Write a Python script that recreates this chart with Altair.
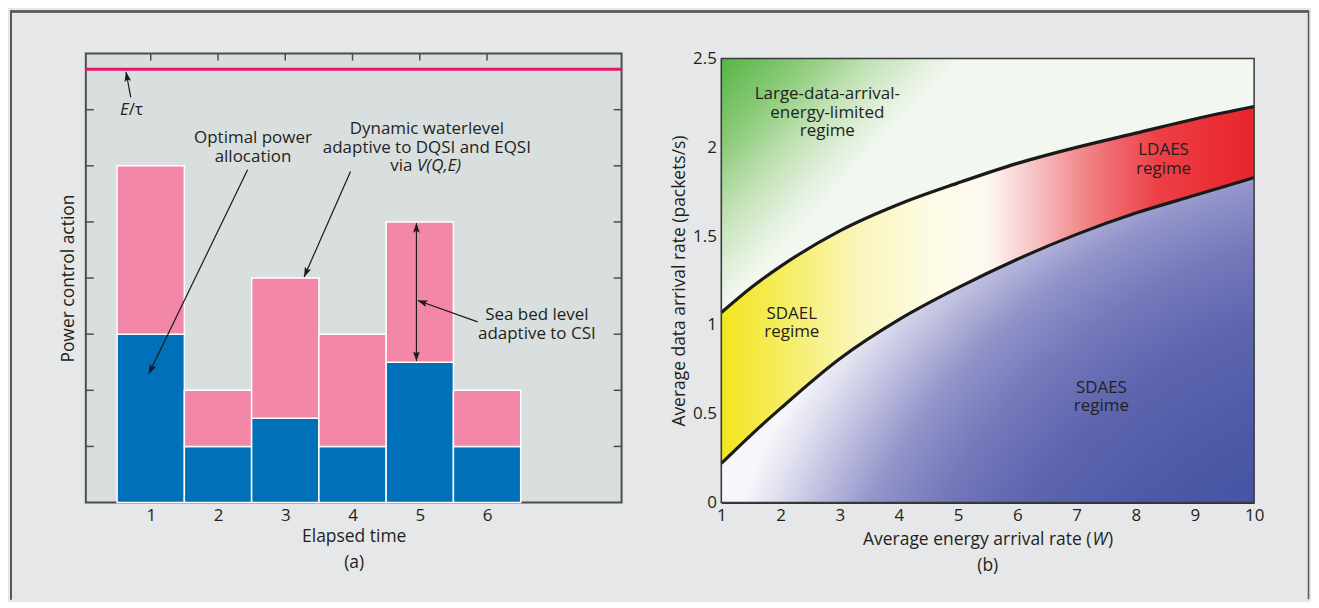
import math
import altair as alt
import pandas as pd

FONT = "Open Sans"
TXT = "#231f20"
FS = 17
FST = 17.5

# ---------------- panel (a) data ----------------
SLOTS = [1, 2, 3, 4, 5, 6]
OPTIMAL_POWER = [3, 1, 1.5, 1, 2.5, 1]        # blue part (top of blue)
WATER_LEVEL = [6, 2, 4, 3, 5, 2]              # top of pink part
E_TAU_LEVEL = [7.72]
A_TICKS_Y = [1, 2, 3, 4, 5, 6, 7]

# annotation blocks (position of the first line)
A_NOTE_TEXT = ["Optimal power\nallocation", "Dynamic waterlevel\nadaptive to DQSI and EQSI",
               "Sea bed level\nadaptive to CSI"]
A_NOTE_X = [2.52, 5.105, 6.74]
A_NOTE_Y = [6.494, 6.654, 3.337]

# arrows: tail -> head (data units)
ARROW_TX = [0.703, 2.44, 3.97, 4.95, 4.95, 5.86]
ARROW_TY = [7.22, 5.93, 5.90, 3.75, 3.75, 3.22]
ARROW_HX = [0.633, 0.97, 3.28, 4.95, 4.95, 4.97]
ARROW_HY = [7.675, 2.29, 4.02, 4.98, 2.52, 3.60]

# ---------------- panel (b) data ----------------
ENERGY_RATE = [1, 1.5, 2, 3, 4, 5, 6, 7, 8, 9, 10]
UPPER_BOUND = [1.07, 1.21, 1.33, 1.53, 1.68, 1.80, 1.91, 2.00, 2.08, 2.16, 2.23]
LOWER_BOUND = [0.22, 0.38, 0.53, 0.81, 1.03, 1.21, 1.37, 1.51, 1.63, 1.73, 1.83]
B_X_TICKS = [1, 2, 3, 4, 5, 6, 7, 8, 9, 10]
B_Y_TICKS = [0, 0.5, 1, 1.5, 2, 2.5]
B_NOTE_TEXT = ["Large-data-arrival-\nenergy-limited\nregime", "SDAEL\nregime", "LDAES\nregime", "SDAES\nregime"]
B_NOTE_X = [2.79, 2.19, 8.47, 7.42]
B_NOTE_Y = [2.299, 1.062, 1.983, 0.646]

# ---------------- geometry ----------------
WA, HA = 537, 450
WB, HB = 534, 450
XA_DOM = [0.035, 8.0]
YA_DOM = [0, 8]
SXA = WA / (XA_DOM[1] - XA_DOM[0])
SYA = HA / (YA_DOM[1] - YA_DOM[0])

xs_a = alt.Scale(domain=XA_DOM, nice=False, zero=False)
ys_a = alt.Scale(domain=YA_DOM, nice=False, zero=False)
x_axis_a = alt.Axis(values=SLOTS, title=["Elapsed time", "(a)"], ticks=False, tickSize=0, domain=False,
                    grid=False, labelFont=FONT, labelFontSize=FS, labelColor=TXT, labelPadding=5,
                    labelFlush=False, titleFont=FONT, titleFontSize=FST, titleFontWeight="normal",
                    titleColor=TXT, titlePadding=4, titleLineHeight=26)
y_axis_a = alt.Axis(title="Power control action", labels=False, ticks=False, tickSize=0, domain=False,
                    grid=False, titleFont=FONT, titleFontSize=FST, titleFontWeight="normal",
                    titleColor=TXT, titlePadding=8)


def XA(f):
    return alt.X(f, type="quantitative", scale=xs_a, axis=x_axis_a)


def YA(f):
    return alt.Y(f, type="quantitative", scale=ys_a, axis=y_axis_a)


rows = []
for s, p, w in zip(SLOTS, OPTIMAL_POWER, WATER_LEVEL):
    rows.append(dict(l=s - 0.5, r=s + 0.5, b=0, t=p, part="power"))
    rows.append(dict(l=s - 0.5, r=s + 0.5, b=p, t=w, part="level"))
bars_df = pd.DataFrame(rows)

bars = alt.Chart(bars_df).mark_rect(stroke="white", strokeWidth=1.5).encode(
    x=XA("l"), x2="r", y=YA("b"), y2="t",
    color=alt.Color("part:N", scale=alt.Scale(domain=["power", "level"], range=["#0070b9", "#f287a7"]),
                    legend=None))

eline = alt.Chart(pd.DataFrame({"lev": E_TAU_LEVEL})).mark_rule(color="#e8136f", strokeWidth=3).encode(
    y=YA("lev"), x=alt.value(0), x2=alt.value(WA))

tick_df = pd.DataFrame({"v": A_TICKS_Y})
lticks = alt.Chart(tick_df).mark_rule(color="#4d4d4f", strokeWidth=1.5).encode(
    y=YA("v"), x=alt.value(0), x2=alt.value(8))
rticks = alt.Chart(tick_df).mark_rule(color="#4d4d4f", strokeWidth=1.5).encode(
    y=YA("v"), x=alt.value(WA - 8), x2=alt.value(WA))
tticks = alt.Chart(pd.DataFrame({"v": SLOTS})).mark_rule(color="#4d4d4f", strokeWidth=1.5).encode(
    x=XA("v"), y=alt.value(0), y2=alt.value(7))

angles = []
for tx, ty, hx, hy in zip(ARROW_TX, ARROW_TY, ARROW_HX, ARROW_HY):
    dxp = (hx - tx) * SXA
    dyp = -(hy - ty) * SYA
    angles.append(math.degrees(math.atan2(dxp, -dyp)) % 360)
arrow_df = pd.DataFrame({"tx": ARROW_TX, "ty": ARROW_TY, "hx": ARROW_HX, "hy": ARROW_HY, "ang": angles})
shafts = alt.Chart(arrow_df).mark_rule(color="#1a1a1a", strokeWidth=1.2).encode(
    x=XA("tx"), y=YA("ty"), x2="hx", y2="hy")
HEAD = "M0,0L-0.35,1L0,0.8L0.35,1Z"
heads = alt.Chart(arrow_df).mark_point(shape=HEAD, filled=True, size=380, color="#1a1a1a", opacity=1,
                                       strokeWidth=0).encode(
    x=XA("hx"), y=YA("hy"), angle=alt.Angle("ang:Q", scale=None))

notes_a = alt.Chart(pd.DataFrame({"x": A_NOTE_X, "y": A_NOTE_Y, "t": A_NOTE_TEXT})).mark_text(
    font=FONT, fontSize=FS, color=TXT, lineBreak="\n", lineHeight=18.5, align="center",
    baseline="middle").encode(x=XA("x"), y=YA("y"), text="t:N")

via_df = pd.DataFrame({"x": [4.959], "y": [6.004]})
via1 = alt.Chart(via_df).mark_text(font=FONT, fontSize=FS, color=TXT, align="right", baseline="middle",
                                   dx=-4.5, text="via").encode(x=XA("x"), y=YA("y"))
via2 = alt.Chart(via_df).mark_text(font=FONT, fontSize=FS, color=TXT, align="left", baseline="middle",
                                   fontStyle="italic", text="V(Q,E)").encode(x=XA("x"), y=YA("y"))
et_df = pd.DataFrame({"x": [0.673], "y": [7.0]})
et1 = alt.Chart(et_df).mark_text(font=FONT, fontSize=FS, color=TXT, align="right", baseline="middle",
                                 fontStyle="italic", text="E").encode(x=XA("x"), y=YA("y"))
et2 = alt.Chart(et_df).mark_text(font=FONT, fontSize=FS, color=TXT, align="left", baseline="middle",
                                 text="/τ").encode(x=XA("x"), y=YA("y"))

# outer figure frame (left and top edges)
FRAME = "#58595b"
frame_left = alt.Chart(tick_df).mark_rule(color=FRAME, strokeWidth=1.5).encode(
    x=alt.value(-75.2), y=alt.value(-43), y2=alt.value(547))
frame_top = alt.Chart(tick_df).mark_rule(color=FRAME, strokeWidth=1.5).encode(
    y=alt.value(-42.2), x=alt.value(-76), x2=alt.value(1226))

panel_a = alt.layer(bars, eline, lticks, rticks, tticks, shafts, heads, notes_a, via1, via2, et1, et2,
                    frame_left, frame_top).properties(
    width=WA, height=HA, view=alt.ViewBackground(fill="#d9dfde", stroke="#4d4d4f", strokeWidth=2))

# ---------------- panel (b) ----------------
xs_b = alt.Scale(domain=[1, 10], nice=False, zero=False)
ys_b = alt.Scale(domain=[0, 2.5], range=[450, 5], nice=False, zero=False)
x_axis_b = alt.Axis(values=B_X_TICKS, title=None, ticks=False, tickSize=0, domain=True, domainColor="#333333",
                    domainWidth=2, grid=False, labelFont=FONT, labelFontSize=FS, labelColor=TXT,
                    labelPadding=5, labelFlush=False)
y_axis_b = alt.Axis(values=B_Y_TICKS, format="~g", title="Average data arrival rate (packets/s)", ticks=False,
                    tickSize=0, domain=True, domainColor="#333333", domainWidth=2, grid=False,
                    labelFont=FONT, labelFontSize=FS, labelColor=TXT, labelPadding=5, labelFlush=False,
                    titleFont=FONT, titleFontSize=FST, titleFontWeight="normal", titleColor=TXT,
                    titlePadding=4)


def XB(f):
    return alt.X(f, type="quantitative", scale=xs_b, axis=x_axis_b)


def YB(f):
    return alt.Y(f, type="quantitative", scale=ys_b, axis=y_axis_b)


reg_df = pd.DataFrame({"x": ENERGY_RATE, "up": UPPER_BOUND, "lo": LOWER_BOUND,
                       "top": [B_Y_TICKS[-1]] * len(ENERGY_RATE), "bot": [B_Y_TICKS[0]] * len(ENERGY_RATE)})

GREEN = {"gradient": "linear", "x1": 0, "y1": 0, "x2": 0.374, "y2": 0.168,
         "stops": [{"offset": 0, "color": "#55b646"}, {"offset": 0.35, "color": "#8bcb78"},
                   {"offset": 0.65, "color": "#c4e3b8"}, {"offset": 0.88, "color": "#e4f1df"},
                   {"offset": 1, "color": "#f2f7f0"}]}
BAND = {"gradient": "linear", "x1": 0, "y1": 0, "x2": 1, "y2": 0,
        "stops": [{"offset": 0, "color": "#f2e51e"}, {"offset": 0.12, "color": "#f5ed62"},
                  {"offset": 0.25, "color": "#faf5b8"}, {"offset": 0.4, "color": "#fdfbe6"},
                  {"offset": 0.5, "color": "#fdf7f3"}, {"offset": 0.58, "color": "#f7c6c8"},
                  {"offset": 0.7, "color": "#f07b7f"}, {"offset": 0.82, "color": "#ec4046"},
                  {"offset": 1, "color": "#e8232a"}]}
BLUE = {"gradient": "radial", "x1": 1.3, "y1": 1.3, "r1": 0, "x2": 1.3, "y2": 1.3, "r2": 1.36,
        "stops": [{"offset": 0, "color": "#344e9e"}, {"offset": 0.31, "color": "#3b509f"},
                  {"offset": 0.5, "color": "#4b58a6"}, {"offset": 0.65, "color": "#5e65af"},
                  {"offset": 0.75, "color": "#7579bb"}, {"offset": 0.83, "color": "#9193c9"},
                  {"offset": 0.9, "color": "#bdbddf"}, {"offset": 0.96, "color": "#e2e2f1"},
                  {"offset": 1, "color": "#f7f7fb"}]}

top_area = alt.Chart(reg_df).mark_area(interpolate="monotone", fill=GREEN).encode(
    x=XB("x"), y=YB("up"), y2="top")
band_area = alt.Chart(reg_df).mark_area(interpolate="monotone", fill=BAND).encode(
    x=XB("x"), y=YB("up"), y2="lo")
bot_area = alt.Chart(reg_df).mark_area(interpolate="monotone", fill=BLUE).encode(
    x=XB("x"), y=YB("lo"), y2="bot")
up_line = alt.Chart(reg_df).mark_line(interpolate="monotone", color="#1a1a1a", strokeWidth=3.2).encode(
    x=XB("x"), y=YB("up"))
lo_line = alt.Chart(reg_df).mark_line(interpolate="monotone", color="#1a1a1a", strokeWidth=3.2).encode(
    x=XB("x"), y=YB("lo"))

box_df = pd.DataFrame({"x0": [B_X_TICKS[0]], "x1": [B_X_TICKS[-1]], "y0": [B_Y_TICKS[0]], "y1": [B_Y_TICKS[-1]]})
box = alt.Chart(box_df).mark_rect(fill="transparent", stroke="#3a3a3a", strokeWidth=1.5).encode(
    x=XB("x0"), x2="x1", y=YB("y0"), y2="y1")

notes_b = alt.Chart(pd.DataFrame({"x": B_NOTE_X, "y": B_NOTE_Y, "t": B_NOTE_TEXT})).mark_text(
    font=FONT, fontSize=FS, color=TXT, lineBreak="\n", lineHeight=18.5, align="center",
    baseline="middle").encode(x=XB("x"), y=YB("y"), text="t:N")

# x-axis title of panel (b) with italic W, and the "(b)" caption
t1 = alt.Chart(box_df).mark_text(font=FONT, fontSize=FST, color=TXT, align="right", baseline="middle",
                                 text="Average energy arrival rate (").encode(x=alt.value(371), y=alt.value(488))
t2 = alt.Chart(box_df).mark_text(font=FONT, fontSize=FST, color=TXT, align="left", baseline="middle",
                                 fontStyle="italic", text="W").encode(x=alt.value(372), y=alt.value(488))
t3 = alt.Chart(box_df).mark_text(font=FONT, fontSize=FST, color=TXT, align="left", baseline="middle",
                                 text=")").encode(x=alt.value(387.5), y=alt.value(488))
t4 = alt.Chart(box_df).mark_text(font=FONT, fontSize=FST, color=TXT, align="center", baseline="middle",
                                 text="(b)").encode(x=alt.value(WB / 2), y=alt.value(514))

frame_right = alt.Chart(box_df).mark_rule(color=FRAME, strokeWidth=1.5).encode(
    x=alt.value(588.5), y=alt.value(-43), y2=alt.value(547))

panel_b = alt.layer(bot_area, band_area, top_area, up_line, lo_line, box, notes_b, t1, t2, t3, t4,
                    frame_right).properties(
    width=WB, height=HB, view=alt.ViewBackground(fill="transparent", stroke="transparent"))

chart = alt.hconcat(panel_a, panel_b, spacing=100, bounds="flush", padding=0,
                    background="#e6e7e8")

chart.save("out.html", embed_options={"renderer": "svg", "actions": False})
